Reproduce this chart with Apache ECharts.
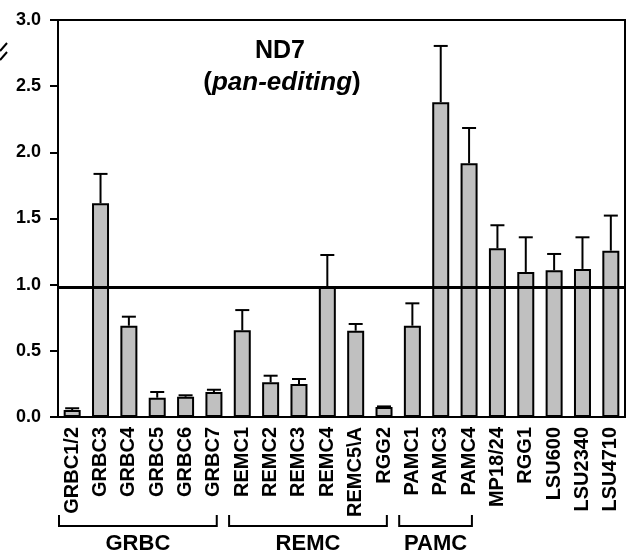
<!DOCTYPE html>
<html>
<head>
<meta charset="utf-8">
<script src="https://cdn.jsdelivr.net/npm/echarts@6/dist/echarts.min.js"></script>
<style>
html,body{margin:0;padding:0;background:#fff;}
#c{width:631px;height:555px;}
</style>
</head>
<body>
<div id="c"></div>
<script>
const categories = ['GRBC1/2','GRBC3','GRBC4','GRBC5','GRBC6','GRBC7','REMC1','REMC2','REMC3','REMC4','REMC5\\A','RGG2','PAMC1','PAMC3','PAMC4','MP18/24','RGG1','LSU600','LSU2340','LSU4710'];
const means = [0.053,1.615,0.69,0.146,0.153,0.189,0.655,0.262,0.249,0.99,0.652,0.076,0.69,2.379,1.917,1.275,1.096,1.109,1.119,1.257];
const errs  = [0.013,0.222,0.068,0.043,0.011,0.017,0.153,0.05,0.038,0.234,0.051,0.004,0.169,0.425,0.267,0.174,0.262,0.123,0.239,0.265];
const refLine = 0.98;
const yTicks = [0,0.5,1,1.5,2,2.5,3];
const groupNames = ['GRBC','REMC','PAMC'];
const groupStart = [0,6,12];
const groupEnd = [5,11,14];
const titleMain = 'ND7';
const titleSub = 'pan-editing';

const FONT = "'Liberation Sans', Arial, Helvetica, sans-serif";
const chart = echarts.init(document.getElementById('c'), null, {renderer:'canvas'});

const option = {
  animation:false,
  backgroundColor:'#fff',
  grid:{left:58,right:6,top:20,bottom:138,show:true,borderColor:'#000',borderWidth:2,backgroundColor:'transparent'},
  xAxis:{
    type:'category',
    data:categories,
    axisLine:{lineStyle:{color:'#000',width:2}},
    axisTick:{show:false},
    axisLabel:{rotate:90,margin:10,color:'#000',fontFamily:FONT,fontWeight:'bold',fontSize:20,interval:0}
  },
  yAxis:{
    type:'value',
    min:yTicks[0],max:yTicks[yTicks.length-1],interval:0.5,
    splitLine:{show:false},
    axisLine:{show:true,lineStyle:{color:'#000',width:2}},
    axisTick:{show:true,length:8,lineStyle:{color:'#000',width:2}},
    axisLabel:{margin:17,color:'#000',fontFamily:FONT,fontWeight:'bold',fontSize:18,formatter:v=>v.toFixed(1)}
  },
  series:[
    {
      type:'bar',
      data:means,
      barWidth:17,
      itemStyle:{color:'#c0c0c0',borderColor:'#000',borderWidth:2},
      markLine:{
        symbol:['none','none'],
        silent:true,
        label:{show:false},
        lineStyle:{color:'#000',width:3,type:'solid'},
        data:[{yAxis:refLine}]
      }
    },
    {
      type:'custom',
      data:categories.map((c,i)=>[i,means[i],errs[i]]),
      z:3,
      renderItem:function(params,api){
        const i = api.value(0);
        const base = api.coord([i,api.value(1)]);
        const top = api.coord([i,api.value(1)+api.value(2)]);
        const half = 7;
        return {type:'group',children:[
          {type:'line',shape:{x1:base[0],y1:base[1],x2:top[0],y2:top[1]},style:{stroke:'#000',lineWidth:2}},
          {type:'line',shape:{x1:top[0]-half,y1:top[1],x2:top[0]+half,y2:top[1]},style:{stroke:'#000',lineWidth:2}}
        ]};
      }
    }
  ],
  graphic:[
    {type:'text',x:280,y:51,style:{text:titleMain,font:"bold 25px "+FONT,fill:'#000',textAlign:'center',textVerticalAlign:'middle'}},
    {type:'text',x:282,y:83,style:{
      text:'{p|(}{i|'+titleSub+'}{p|)}',
      textAlign:'center',textVerticalAlign:'middle',
      rich:{
        p:{font:"bold 26px "+FONT,fill:'#000'},
        i:{font:"italic bold 26px "+FONT,fill:'#000'}
      }
    }},
    {type:'line',shape:{x1:0,y1:51,x2:7,y2:43},style:{stroke:'#000',lineWidth:2}},
    {type:'line',shape:{x1:0,y1:60,x2:7,y2:52},style:{stroke:'#000',lineWidth:2}}
  ]
};
chart.setOption(option);

// group brackets below the category labels, positioned via the category scale
const p0 = chart.convertToPixel({xAxisIndex:0},0);
const p1 = chart.convertToPixel({xAxisIndex:0},1);
const step = p1 - p0;
const extra = [];
groupNames.forEach((g,k)=>{
  const xl = chart.convertToPixel({xAxisIndex:0},groupStart[k]) - step*0.5 + 1;
  const xr = chart.convertToPixel({xAxisIndex:0},groupEnd[k]) + step*0.1;
  const yTop = 515, yBot = 526;
  extra.push({type:'polyline',shape:{points:[[xl,yTop],[xl,yBot],[xr,yBot],[xr,yTop]]},style:{stroke:'#000',lineWidth:2,fill:null}});
  extra.push({type:'text',x:(xl+xr)/2,y:544,style:{text:g,font:"bold 22px "+FONT,fill:'#000',textAlign:'center',textVerticalAlign:'middle'}});
});
chart.setOption({graphic:option.graphic.concat(extra)});
</script>
</body>
</html>
